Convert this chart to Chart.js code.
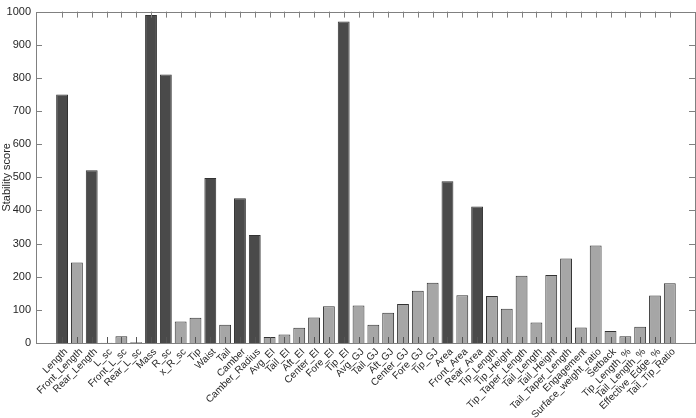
<!DOCTYPE html>
<html>
<head>
<meta charset="utf-8">
<script src="https://cdn.jsdelivr.net/npm/chart.js@4.4.1/dist/chart.umd.min.js"></script>
<style>
  html, body { margin: 0; padding: 0; background: #fff; }
  #wrap { width: 696px; height: 418px; }
</style>
</head>
<body>
<div id="wrap"><canvas id="stabilityChart" width="696" height="418"></canvas></div>
<script>
// Feature names along the x axis
const features = [
    'Length', 'Front_Length', 'Rear_Length', 'L_sc', 'Front_L_sc', 'Rear_L_sc',
    'Mass', 'R_sc', 'x_R_sc', 'Tip', 'Waist', 'Tail', 'Camber', 'Camber_Radius',
    'Avg_EI', 'Tail_EI', 'Aft_EI', 'Center_EI', 'Fore_EI', 'Tip_EI',
    'Avg_GJ', 'Tail_GJ', 'Aft_GJ', 'Center_GJ', 'Fore_GJ', 'Tip_GJ',
    'Area', 'Front_Area', 'Rear_Area', 'Tip_Length', 'Tip_Height', 'Tip_Taper_Length',
    'Tail_Length', 'Tail_Height', 'Tail_Taper_Length', 'Engagement', 'Surface_weight_ratio',
    'Setback', 'Tip_Length_%', 'Tail_Length_%', 'Effective_Edge_%', 'Tail_Tip_Ratio'
];

// Stability score per feature
const scores = [
    750, 243, 521, 1, 20, 2,
    990, 810, 65, 76, 498, 55, 437, 326,
    18, 26, 46, 77, 111, 970,
    113, 55, 91, 118, 158, 182,
    488, 144, 412, 142, 103, 203,
    62, 205, 255, 47, 294,
    36, 20, 49, 143, 180
];

// Features drawn with the dark bars
const selected = ['Length', 'Rear_Length', 'Mass', 'R_sc', 'Waist', 'Camber',
    'Camber_Radius', 'Tip_EI', 'Area', 'Rear_Area'];

// y axis ticks
const yTicks = [0, 100, 200, 300, 400, 500, 600, 700, 800, 900, 1000];

const AXIS_COLOR = '#808080';
const TEXT_COLOR = '#262626';
const FONT = 'Liberation Sans, Arial, Helvetica, sans-serif';

// MATLAB-like box with tick marks pointing inwards
const boxPlugin = {
    id: 'boxAxes',
    afterDatasetsDraw(chart) {
        const { ctx, chartArea: a, scales } = chart;
        const len = 6;
        ctx.save();
        ctx.lineWidth = 1;
        ctx.strokeStyle = '#555555';
        ctx.beginPath();
        scales.x.ticks.forEach(t => {
            const px = Math.round(scales.x.getPixelForValue(t.value)) + 0.5;
            ctx.moveTo(px, a.bottom); ctx.lineTo(px, a.bottom - len);
        });
        ctx.stroke();
        ctx.strokeStyle = AXIS_COLOR;
        ctx.beginPath();
        scales.x.ticks.forEach(t => {
            const px = Math.round(scales.x.getPixelForValue(t.value)) + 0.5;
            ctx.moveTo(px, a.top); ctx.lineTo(px, a.top + len);
        });
        scales.y.ticks.forEach(t => {
            const py = Math.round(scales.y.getPixelForValue(t.value)) + 0.5;
            ctx.moveTo(a.left, py); ctx.lineTo(a.left + len, py);
            ctx.moveTo(a.right, py); ctx.lineTo(a.right - len, py);
        });
        ctx.stroke();
        ctx.strokeRect(Math.round(a.left) + 0.5, Math.round(a.top) + 0.5,
            Math.round(a.right - a.left), Math.round(a.bottom - a.top));
        ctx.restore();
    }
};

const ctx = document.getElementById('stabilityChart').getContext('2d');
new Chart(ctx, {
    type: 'bar',
    data: {
        datasets: [{
            label: 'Stability score',
            data: scores.map((v, i) => ({ x: i + 1, y: v })),
            backgroundColor: features.map(f => selected.includes(f) ? '#4a4a4a' : '#a6a6a6'),
            borderColor: '#333333',
            borderWidth: 1,
            borderSkipped: 'bottom',
            barPercentage: 0.8,
            categoryPercentage: 1
        }]
    },
    options: {
        responsive: false,
        animation: false,
        layout: { padding: { top: 4, right: 1, left: 0, bottom: 0 } },
        plugins: {
            legend: { display: false },
            tooltip: { enabled: false }
        },
        scales: {
            x: {
                type: 'linear',
                min: -0.23,
                max: features.length + 1.17,
                grid: { display: false, drawTicks: false },
                border: { display: false },
                afterBuildTicks: scale => {
                    scale.ticks = features.map((_, i) => ({ value: i + 1 }));
                },
                afterFit: scale => { scale.height = 75; },
                ticks: {
                    autoSkip: false,
                    minRotation: 45,
                    maxRotation: 45,
                    padding: 3,
                    labelOffset: 4,
                    color: TEXT_COLOR,
                    font: { family: FONT, size: 10 },
                    callback: v => features[v - 1]
                }
            },
            y: {
                min: 0,
                max: 1000,
                grid: { display: false, drawTicks: false },
                border: { display: false },
                afterBuildTicks: scale => {
                    scale.ticks = yTicks.map(v => ({ value: v }));
                },
                afterFit: scale => { scale.width = 36; },
                title: {
                    display: true,
                    text: 'Stability score',
                    color: TEXT_COLOR,
                    padding: 0,
                    font: { family: FONT, size: 11 }
                },
                ticks: {
                    padding: 5,
                    color: TEXT_COLOR,
                    font: { family: FONT, size: 11 },
                    callback: v => String(v)
                }
            }
        }
    },
    plugins: [boxPlugin]
});
</script>
</body>
</html>
